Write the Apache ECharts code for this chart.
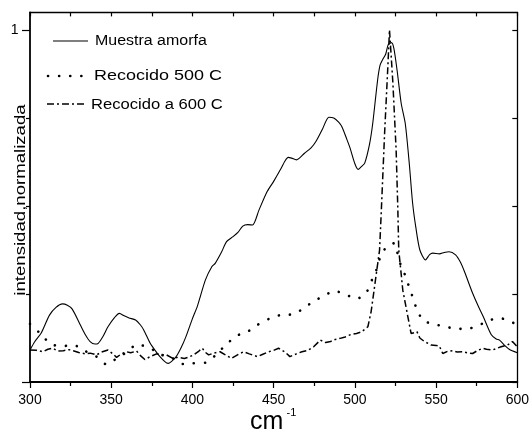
<!DOCTYPE html>
<html>
<head>
<meta charset="utf-8">
<script src="https://cdn.jsdelivr.net/npm/echarts@6/dist/echarts.min.js"></script>
<style>html,body{margin:0;padding:0;background:#fff}#c{width:532px;height:434px}</style>
</head>
<body>
<div id="c"></div>
<script>
// Muestra amorfa (solid)
var amorfaX = [300,303,307,312,316,320,323,326,331,334,337,340,342,345,348,352,355,358,361,365,368,370,374,377,380,383,385,387,390,393,396,400,403,408,412,414,418,421,425,428,431,434,437,441,446,450,454,457,459,461,464,469,473,476,480,484,487,490,492,495,497,500,502,504,506,509,511,514,515.5,517,519,520.5,522.5,524,526,528.5,531,533.5,535.5,537.5,540,543.5,546,548,552,555,558,562,565,567.5,572.5,576,579,584,587,589,592,595,600];
var amorfaY = [0.091,0.115,0.14,0.19,0.212,0.222,0.218,0.207,0.162,0.135,0.115,0.108,0.11,0.13,0.157,0.183,0.195,0.188,0.182,0.176,0.162,0.148,0.11,0.09,0.072,0.058,0.053,0.058,0.072,0.097,0.129,0.18,0.215,0.29,0.328,0.337,0.37,0.399,0.413,0.425,0.443,0.447,0.446,0.489,0.541,0.57,0.602,0.628,0.638,0.636,0.631,0.65,0.665,0.683,0.718,0.752,0.75,0.738,0.725,0.69,0.665,0.62,0.604,0.612,0.621,0.675,0.735,0.858,0.9,0.915,0.932,0.958,0.964,0.948,0.885,0.792,0.735,0.62,0.51,0.44,0.375,0.347,0.362,0.366,0.364,0.368,0.37,0.361,0.34,0.313,0.252,0.215,0.186,0.134,0.122,0.119,0.105,0.093,0.083];
// Recocido 500 C (dotted)
var r500X = [300,306,313,320,327,334,341,347,354,359,366,374,381,388,394,400,408,414,420,427,434,440,447,454,461,468,474,481,487.5,494.5,501.3,507.4,510.5,513.2,515.2,518.7,521,524,526,528.5,531.6,533.6,536.1,538.2,542.2,549,555.8,562.7,569.5,576.6,583.2,590,596,600];
var r500Y = [0.165,0.139,0.107,0.102,0.105,0.088,0.072,0.05,0.069,0.083,0.107,0.096,0.077,0.067,0.051,0.053,0.055,0.075,0.103,0.131,0.143,0.162,0.179,0.19,0.192,0.207,0.228,0.245,0.259,0.248,0.236,0.257,0.29,0.318,0.349,0.38,0.39,0.394,0.37,0.328,0.297,0.266,0.235,0.205,0.174,0.164,0.157,0.151,0.151,0.162,0.176,0.181,0.17,0.165];
// Recocido a 600 C (dash-dot)
var r600X = [300,304,308,311,314,317,320.5,324,326.6,330,333.8,337,341,344,348,351,353.3,356,359.4,362,365.6,368,370.7,374,377.9,381,384,388,391,395,398,401,404,406,408,410,413,417,420,424,428,431.6,435,440,443,447,450,453,457,460,464,467.4,471,474.6,478.7,482,485,488,491,494,497,501,504,508,510,511,513.5,515.2,516.4,518.3,520.3,521.3,522.3,523.4,525.4,526.4,527,529.5,532.6,534.6,536.5,538.2,540,542.8,546.9,550,552,554.1,557,560.2,563,566.4,569,572.5,575,578.7,581,584.8,587,590,594,597,600];
var r600Y = [0.091,0.09,0.086,0.093,0.096,0.088,0.089,0.092,0.089,0.084,0.08,0.082,0.077,0.085,0.091,0.08,0.07,0.079,0.086,0.083,0.088,0.075,0.064,0.072,0.08,0.078,0.077,0.067,0.07,0.067,0.071,0.078,0.088,0.096,0.084,0.077,0.082,0.086,0.078,0.067,0.078,0.086,0.08,0.072,0.078,0.086,0.09,0.096,0.085,0.072,0.08,0.086,0.09,0.1,0.119,0.112,0.115,0.121,0.124,0.128,0.134,0.138,0.142,0.157,0.2,0.233,0.318,0.375,0.5,0.707,0.896,1.0,0.93,0.849,0.659,0.498,0.375,0.261,0.186,0.138,0.14,0.143,0.125,0.115,0.105,0.104,0.102,0.081,0.087,0.089,0.085,0.086,0.083,0.081,0.088,0.096,0.093,0.091,0.095,0.1,0.105,0.115,0.1];

var seriesNames = ['Muestra amorfa','Recocido 500 C','Recocido a 600 C'];
var xTicks = [300,350,400,450,500,550,600];
var yTickLabels = ['1'];
var xTitle = 'cm';
var xTitleSup = '-1';
var yTitle = 'intensidad,normalizada';

function pairs(xs, ys){ return xs.map(function(x,i){ return [x, ys[i]]; }); }

var FONT = 'Liberation Sans, Arial, sans-serif';
var black = '#000';
var chart = echarts.init(document.getElementById('c'), null, {renderer:'canvas'});
var yMin = 0, yMax = 1.05;
var option = {
  animation: false,
  backgroundColor: '#fff',
  grid: {left: 30, right: 14, top: 12.4, bottom: 52},
  xAxis: [{
    type: 'value', position: 'bottom', min: xTicks[0], max: xTicks[xTicks.length-1], interval: 50,
    axisLine: {show: true, onZero: false, lineStyle: {color: black, width: 1.8}},
    axisTick: {show: true, inside: false, length: 6, lineStyle: {color: black, width: 1.2}},
    minorTick: {show: true, splitNumber: 2, length: 4, lineStyle: {color: black, width: 1.2}},
    axisLabel: {show: true, margin: 11, color: black, fontSize: 14, fontFamily: FONT},
    splitLine: {show: false}, minorSplitLine: {show: false}
  },{
    type: 'value', position: 'top', min: xTicks[0], max: xTicks[xTicks.length-1], interval: 25,
    axisLine: {show: true, onZero: false, lineStyle: {color: black, width: 1.3}},
    axisTick: {show: true, inside: true, length: 4, lineStyle: {color: black, width: 1.2}},
    axisLabel: {show: false}, splitLine: {show: false}
  }],
  yAxis: [{
    type: 'value', position: 'left', min: yMin, max: yMax, interval: 1,
    axisLine: {show: true, onZero: false, lineStyle: {color: black, width: 1.8}},
    axisTick: {show: true, inside: false, length: 8, customValues: [0, 1], lineStyle: {color: black, width: 1.2}},
    axisLabel: {show: true, margin: 11.5, customValues: [1], formatter: function(v){ return yTickLabels[0]; }, color: black, fontSize: 14, fontFamily: FONT},
    splitLine: {show: false}
  },{
    type: 'value', position: 'left', min: yMin, max: yMax, interval: 0.25,
    axisLine: {show: false},
    axisTick: {show: true, inside: false, length: 4, customValues: [0.25, 0.5, 0.75], lineStyle: {color: black, width: 1.2}},
    axisLabel: {show: false}, splitLine: {show: false}
  },{
    type: 'value', position: 'right', min: yMin, max: yMax, interval: 0.25,
    axisLine: {show: true, onZero: false, lineStyle: {color: black, width: 1.3}},
    axisTick: {show: true, inside: true, length: 5, customValues: [0, 0.25, 0.5, 0.75, 1], lineStyle: {color: black, width: 1.2}},
    axisLabel: {show: false}, splitLine: {show: false}
  }],
  series: [{
    name: seriesNames[0], type: 'line', xAxisIndex: 0, yAxisIndex: 0,
    data: pairs(amorfaX, amorfaY), showSymbol: false, symbol: 'none', smooth: 0.25,
    lineStyle: {color: black, width: 1.1}
  },{
    name: seriesNames[1], type: 'line', xAxisIndex: 0, yAxisIndex: 0,
    data: pairs(r500X, r500Y), showSymbol: false, symbol: 'none', smooth: 0.2,
    lineStyle: {color: black, width: 2.6, type: [0.1, 11], cap: 'round'}
  },{
    name: seriesNames[2], type: 'line', xAxisIndex: 0, yAxisIndex: 0,
    data: pairs(r600X, r600Y), showSymbol: false, symbol: 'none',
    lineStyle: {color: black, width: 1.5, type: [7, 3, 2, 3]}
  }],
  graphic: [
    {type: 'line', shape: {x1: 53, y1: 41, x2: 88, y2: 41}, style: {stroke: black, lineWidth: 1.1}},
    {type: 'text', x: 95, y: 41, scaleX: 1.14, style: {text: seriesNames[0], fill: black, fontSize: 14, fontFamily: FONT, align: 'left', verticalAlign: 'middle'}},
    {type: 'line', shape: {x1: 48, y1: 76, x2: 82, y2: 76}, style: {stroke: black, lineWidth: 2.6, lineDash: [0.1, 11], lineCap: 'round'}},
    {type: 'text', x: 94, y: 76, scaleX: 1.16, style: {text: seriesNames[1], fill: black, fontSize: 15.5, fontFamily: FONT, align: 'left', verticalAlign: 'middle'}},
    {type: 'line', shape: {x1: 47, y1: 104, x2: 87, y2: 104}, style: {stroke: black, lineWidth: 1.5, lineDash: [7, 3, 2, 3]}},
    {type: 'text', x: 91, y: 104.5, scaleX: 1.07, style: {text: seriesNames[2], fill: black, fontSize: 15.5, fontFamily: FONT, align: 'left', verticalAlign: 'middle'}},
    {type: 'text', x: 20.5, y: 200, rotation: Math.PI/2, scaleX: 1.24, style: {text: yTitle, fill: black, fontSize: 15, fontFamily: FONT, align: 'center', verticalAlign: 'middle'}},
    {type: 'text', x: 250, y: 422.5, style: {text: xTitle, fill: black, fontSize: 25, fontFamily: FONT, align: 'left', verticalAlign: 'middle'}},
    {type: 'text', x: 286.5, y: 413, style: {text: xTitleSup, fill: black, fontSize: 11, fontFamily: FONT, align: 'left', verticalAlign: 'middle'}}
  ]
};
chart.setOption(option);
</script>
</body>
</html>
